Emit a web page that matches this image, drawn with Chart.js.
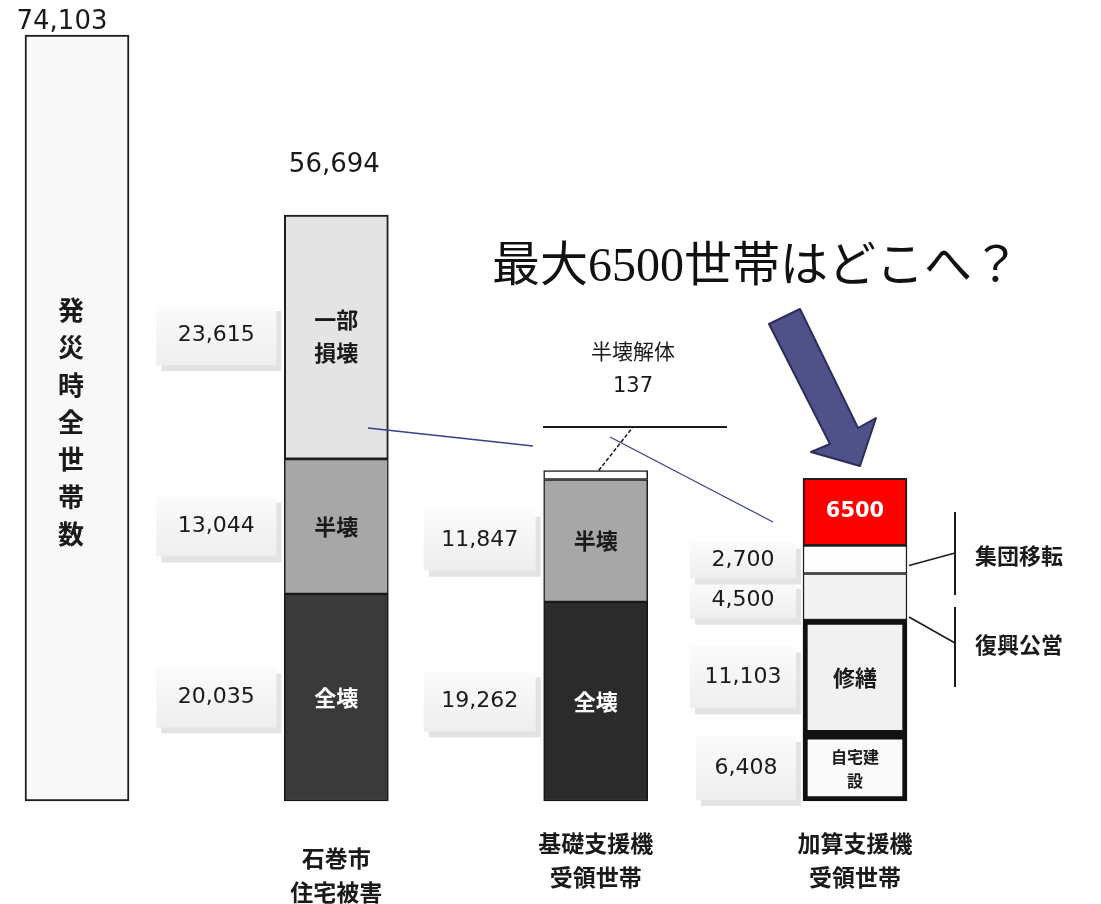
<!DOCTYPE html>
<html lang="ja">
<head>
<meta charset="UTF-8">
<title>最大6500世帯はどこへ？</title>
<script src="https://cdn.jsdelivr.net/npm/chart.js"></script>
<style>
  body { margin: 0; background: #fff; }
  #wrap { position: relative; width: 1101px; height: 904px; }
</style>
</head>
<body>
<div id="wrap"><canvas id="houseChart"></canvas></div>
<script>
// 世帯数（石巻市）
const categories = ['発災時全世帯数', '石巻市住宅被害', '基礎支援機受領世帯', '加算支援機受領世帯'];
const categoryLines = [[], ['石巻市', '住宅被害'], ['基礎支援機', '受領世帯'], ['加算支援機', '受領世帯']];

const allHouseholds = [74103, null, null, null];
const zenkai = [null, 20035, 19262, null];
const hankai = [null, 13044, 11847, null];
const ichibuSonkai = [null, 23615, null, null];
const hankaiKaitai = [null, null, 137, null];
const jitakuKensetsu = [null, null, null, 6408];
const shuzen = [null, null, null, 11103];
const fukkoKoei = [null, null, null, 4500];
const shudanIten = [null, null, null, 2700];
const yukue = [null, null, null, 6500];

const NUM_FONT = '"DejaVu Sans", "Noto Sans CJK JP", sans-serif';
const JP_FONT = '"Noto Sans CJK JP", sans-serif';

function bar(label, data, fill, border, width, extra) {
    return Object.assign({
        label: label,
        data: data,
        backgroundColor: fill,
        borderColor: border,
        borderWidth: width,
        borderSkipped: false,
        barThickness: 104,
        clip: false,
        stack: 'all'
    }, extra || {});
}

const datasets = [
    bar('発災時全世帯数', allHouseholds, '#f8f8f8', '#1e1e1e', 2),
    bar('全壊', zenkai, ['#3a3a3a', '#3a3a3a', '#2b2b2b', '#2b2b2b'], '#151515', 1.5),
    bar('半壊', hankai, '#a7a7a7', '#1e1e1e', 1.5),
    bar('一部損壊', ichibuSonkai, '#e4e4e4', '#1e1e1e', 2),
    bar('半壊解体', hankaiKaitai, '#ffffff', '#1e1e1e', 1.5, { minBarLength: 9 }),
    bar('自宅建設', jitakuKensetsu, '#fafafa', '#111111', 5),
    bar('修繕', shuzen, '#f1f1f1', '#111111', 5),
    bar('復興公営', fukkoKoei, '#f3f3f3', '#1e1e1e', 1.5),
    bar('集団移転', shudanIten, '#fdfdfd', '#1e1e1e', 1.5),
    bar('6500', yukue, '#ff0000', '#1e1e1e', 2)
];

function fmt(v) { return v.toLocaleString('en-US'); }

function text(ctx, str, x, y, font, color, align) {
    ctx.font = font;
    ctx.fillStyle = color || '#111';
    ctx.textAlign = align || 'center';
    ctx.textBaseline = 'middle';
    ctx.fillText(str, x, y);
}

function line(ctx, pts, color, width, dash) {
    ctx.save();
    ctx.strokeStyle = color;
    ctx.lineWidth = width;
    ctx.setLineDash(dash || []);
    ctx.beginPath();
    ctx.moveTo(pts[0][0], pts[0][1]);
    for (let i = 1; i < pts.length; i++) ctx.lineTo(pts[i][0], pts[i][1]);
    ctx.stroke();
    ctx.restore();
}

// 数値ラベルの箱（左側）
function valueBox(ctx, right, cy, w, h, str) {
    const left = right - w;
    ctx.fillStyle = '#e3e3e3';
    ctx.fillRect(left + 5, cy - h / 2 + 6, w, h);
    const g = ctx.createLinearGradient(0, cy - h / 2, 0, cy + h / 2);
    g.addColorStop(0, '#fbfbfb');
    g.addColorStop(1, '#eeeeee');
    ctx.fillStyle = g;
    ctx.fillRect(left, cy - h / 2, w, h);
    text(ctx, str, left + w / 2, cy, '22px ' + NUM_FONT, '#1a1a1a');
}

const boxWidths = [0, 120, 112, 106];

const annotations = {
    id: 'annotations',
    afterDatasetsDraw(chart) {
        const ctx = chart.ctx;
        const seg = (ds, i) => chart.getDatasetMeta(ds).data[i];
        const mid = el => (el.y + el.base) / 2;
        const leftOf = el => el.x - el.width / 2;
        const rightOf = el => el.x + el.width / 2;

        // 発災時全世帯数
        const b1 = seg(0, 0);
        text(ctx, fmt(allHouseholds[0]), b1.x - 15, b1.y - 13, '26px ' + NUM_FONT, '#1a1a1a');
        const vert = '発災時全世帯数'.split('');
        vert.forEach((c, k) => {
            text(ctx, c, b1.x - 6, mid(b1) + (k - 3) * 37.3 + 4, 'bold 26px ' + JP_FONT, '#1a1a1a');
        });

        // 石巻市住宅被害
        const top2 = seg(3, 1);
        const sum2 = zenkai[1] + hankai[1] + ichibuSonkai[1];
        text(ctx, fmt(sum2), top2.x - 2, top2.y - 50, '26px ' + NUM_FONT, '#1a1a1a');
        text(ctx, '一部', top2.x, top2.y + 105, 'bold 22px ' + JP_FONT, '#1a1a1a');
        text(ctx, '損壊', top2.x, top2.y + 138, 'bold 22px ' + JP_FONT, '#1a1a1a');
        valueBox(ctx, leftOf(top2) - 8, top2.y + 120, boxWidths[1], 60, fmt(ichibuSonkai[1]));

        [[1, zenkai, '全壊', '#ffffff'], [2, hankai, '半壊', '#1a1a1a']].forEach(([ds, arr, name, col]) => {
            [1, 2].forEach(i => {
                const el = seg(ds, i);
                text(ctx, name, el.x, mid(el), 'bold 22px ' + JP_FONT, col);
                valueBox(ctx, leftOf(el) - 8, mid(el), boxWidths[i], 60, fmt(arr[i]));
            });
        });

        // 半壊解体
        const k3 = seg(4, 2);
        line(ctx, [[543, 427], [727, 427]], '#1a1a1a', 2);
        line(ctx, [[k3.x + 3, k3.y], [633, 427]], '#1a1a1a', 1.5, [4, 2]);
        text(ctx, '半壊解体', 633, 351, '21px ' + JP_FONT, '#1a1a1a');
        text(ctx, fmt(hankaiKaitai[2]), 633, 387, '21px ' + NUM_FONT, '#1a1a1a');

        // 加算支援機受領世帯
        const jt = seg(5, 3), sz = seg(6, 3), fk = seg(7, 3), sd = seg(8, 3), yk = seg(9, 3);
        text(ctx, '修繕', sz.x, mid(sz), 'bold 22px ' + JP_FONT, '#1a1a1a');
        text(ctx, '自宅建', jt.x, mid(jt) - 11, 'bold 16px ' + JP_FONT, '#1a1a1a');
        text(ctx, '設', jt.x, mid(jt) + 13, 'bold 16px ' + JP_FONT, '#1a1a1a');
        text(ctx, String(yukue[3]), yk.x, mid(yk), 'bold 21px ' + NUM_FONT, '#ffffff');
        valueBox(ctx, leftOf(jt) - 7, mid(jt), 100, 64, fmt(jitakuKensetsu[3]));
        valueBox(ctx, leftOf(sz) - 7, mid(sz), boxWidths[3], 62, fmt(shuzen[3]));
        valueBox(ctx, leftOf(fk) - 7, mid(fk) + 4, boxWidths[3], 36, fmt(fukkoKoei[3]));
        valueBox(ctx, leftOf(sd) - 7, mid(sd) + 1, boxWidths[3], 36, fmt(shudanIten[3]));

        const bx = 955;
        line(ctx, [[bx, 512], [bx, 595]], '#1a1a1a', 2);
        line(ctx, [[bx, 607], [bx, 687]], '#1a1a1a', 2);
        line(ctx, [[rightOf(sd) + 2, mid(sd) + 6], [bx, 553]], '#1a1a1a', 1.5);
        line(ctx, [[rightOf(fk) + 2, fk.base - 3], [bx, 643]], '#1a1a1a', 1.5);
        text(ctx, '集団移転', 975, 556, 'bold 22px ' + JP_FONT, '#1a1a1a', 'left');
        text(ctx, '復興公営', 975, 645, 'bold 22px ' + JP_FONT, '#1a1a1a', 'left');

        // 細い連結線
        line(ctx, [[368, 428], [533, 446]], '#3b3f8a', 1.3);
        line(ctx, [[610, 437], [773, 522]], '#3b3f8a', 1.3);

        // 矢印
        ctx.save();
        ctx.beginPath();
        [[769, 324], [800, 309], [858, 428], [876, 418], [860, 466], [811, 452], [830, 444]]
            .forEach(([x, y], i) => i ? ctx.lineTo(x, y) : ctx.moveTo(x, y));
        ctx.closePath();
        ctx.fillStyle = '#4f5189';
        ctx.fill();
        ctx.strokeStyle = '#2c2d5a';
        ctx.lineWidth = 2;
        ctx.lineJoin = 'round';
        ctx.stroke();
        ctx.restore();

        text(ctx, '最大6500世帯はどこへ？', 492, 268, '48px "Liberation Serif", ' + JP_FONT, '#111', 'left');

        // 横軸のラベル
        const rowTop = [0, 858, 843, 843];
        categoryLines.forEach((lines, i) => {
            const x = seg(0, i).x;
            lines.forEach((s, k) => {
                text(ctx, s, x, rowTop[i] + k * 34, 'bold 23px ' + JP_FONT, '#1a1a1a');
            });
        });
    }
};

new Chart(document.getElementById('houseChart'), {
    type: 'bar',
    data: { labels: categories, datasets: datasets },
    options: {
        responsive: true,
        maintainAspectRatio: false,
        animation: false,
        events: [],
        layout: { padding: { left: 77, right: 246, top: 0, bottom: 103 } },
        plugins: { legend: { display: false }, tooltip: { enabled: false } },
        scales: {
            x: { display: false, offset: false, stacked: true },
            y: { display: false, stacked: true, min: 0, max: 77500 }
        }
    },
    plugins: [annotations]
});
</script>
</body>
</html>
